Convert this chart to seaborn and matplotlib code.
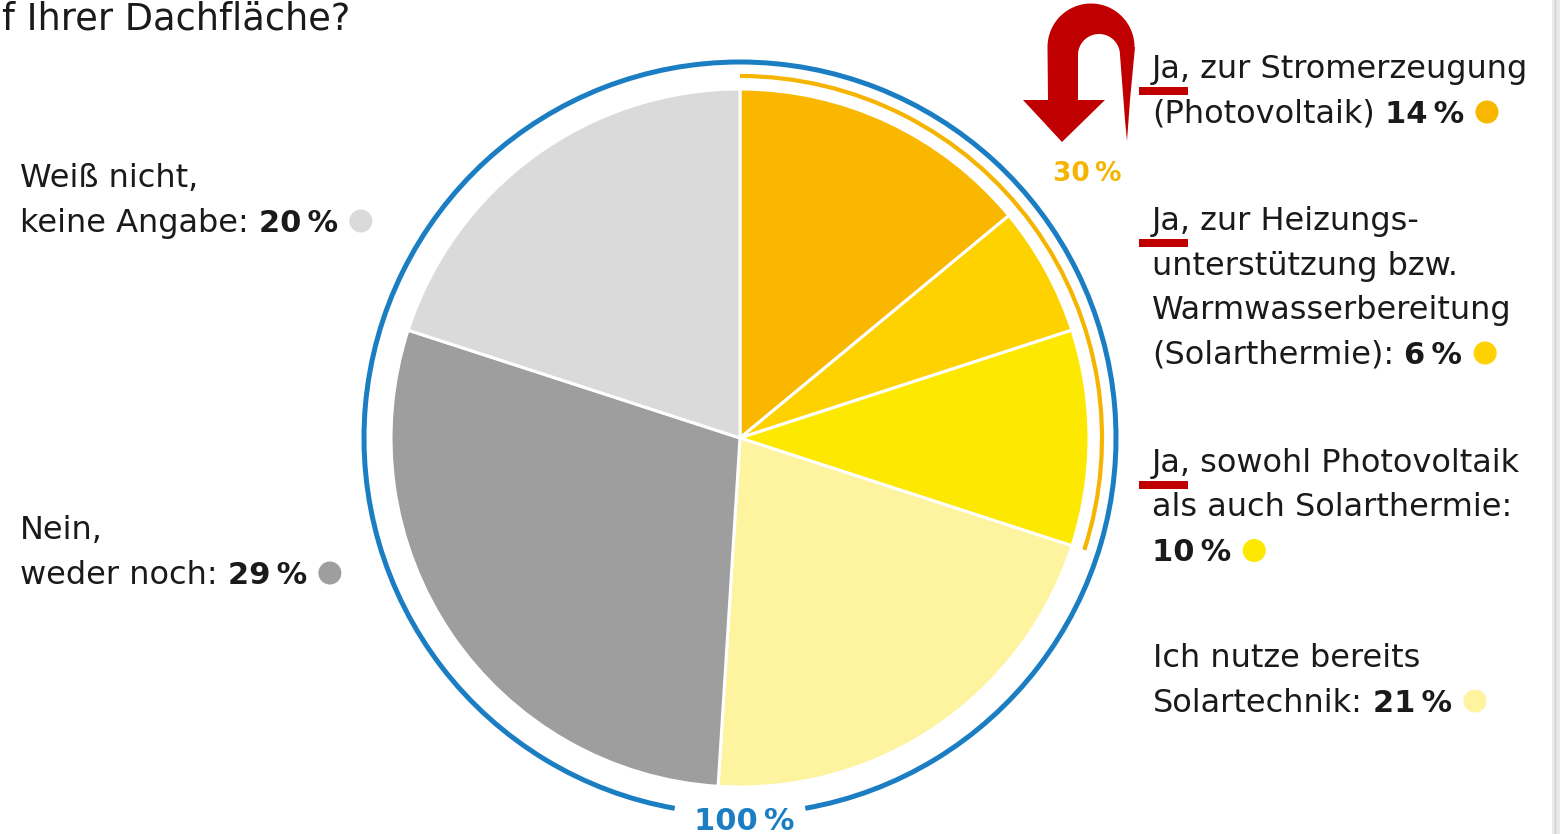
import numpy as np
import matplotlib
matplotlib.use("Agg")
import matplotlib.pyplot as plt
from matplotlib.patches import Arc, Circle, Polygon, Rectangle
import seaborn as sns

# --- data ---
shares = [14, 6, 10, 21, 29, 20]
slice_colors = ["#F9B700", "#FDD200", "#FCE800", "#FEF39E", "#9E9E9E", "#DADADA"]
label_lines = [
    ["Ja, zur Stromerzeugung", "(Photovoltaik)"],
    ["Ja, zur Heizungs-", "unterstützung bzw.", "Warmwasserbereitung", "(Solarthermie):"],
    ["Ja, sowohl Photovoltaik", "als auch Solarthermie:", ""],
    ["Ich nutze bereits", "Solartechnik:"],
    ["Nein,", "weder noch:"],
    ["Weiß nicht,", "keine Angabe:"],
]
ja_marked = [True, True, True, False, False, False]
n_yes = 3  # the three "Ja" answers form the 30 % group
title = "f Ihrer Dachfläche?"

# --- layout (pixels, measured from the top) ---
W, H = 1560, 834
cx, cy = 740, 438
r_pie, r_yes, r_all = 349, 362, 376
label_x = [1152, 1152, 1152, 1153, 20, 20]
first_base = [78, 230, 472, 667, 539, 187]
step = 44.5
blue = "#1B7EC2"
orange = "#F5B400"
red = "#C00000"
ink = "#1A1A1A"


def Y(y):
    return H - y


sns.set_theme(style="white")
plt.rcParams["font.family"] = ["DejaVu Sans"]

fig = plt.figure(figsize=(W / 100, H / 100), dpi=100)
ax = fig.add_axes([0, 0, 1, 1])

ax.pie(shares, colors=slice_colors, startangle=90, counterclock=False,
       center=(cx, Y(cy)), radius=r_pie,
       wedgeprops=dict(edgecolor="white", linewidth=2.2))
ax.set_xlim(0, W)
ax.set_ylim(0, H)
ax.set_aspect("equal")
ax.axis("off")

# outer ring (100 %) with a gap at the bottom for its label
ax.add_patch(Arc((cx, Y(cy)), 2 * r_all, 2 * r_all, theta1=-80, theta2=260,
                 color=blue, lw=3.6))
ax.text(744, Y(821), f"{sum(shares)}\u2009%", ha="center", va="center",
        fontsize=22, fontweight="bold", color=blue)

# orange arc around the "Ja" slices
yes_total = sum(shares[:n_yes])
arc_end = 90 - 360 * yes_total / sum(shares)
ax.add_patch(Arc((cx, Y(cy)), 2 * r_yes, 2 * r_yes, theta1=arc_end, theta2=90,
                 color=orange, lw=3))
ax.text(1087, Y(174), f"{yes_total}\u2009%", ha="center", va="center",
        fontsize=19, fontweight="bold", color=orange)

# red U-turn arrow
pts = [(1048, 100), (1023, 100), (1062, 142), (1105, 100), (1078, 100)]
t = np.linspace(np.pi, 0, 40)
pts += list(zip(1099 + 21 * np.cos(t), 55 - 21 * np.sin(t)))
pts += [(1125, 120), (1127, 141), (1130, 100), (1135, 47)]
t = np.linspace(0, np.pi, 50)
pts += list(zip(1091 + 43.5 * np.cos(t), 47 - 43.5 * np.sin(t)))
ax.add_patch(Polygon([(x, Y(y)) for x, y in pts], closed=True,
                     facecolor=red, edgecolor="none"))

ax.text(2, Y(29), title, ha="left", va="baseline", fontsize=26.5, color=ink)

renderer = fig.canvas.get_renderer()
for i, lines in enumerate(label_lines):
    x0 = label_x[i]
    for j, line in enumerate(lines):
        yb = first_base[i] + j * step
        end = x0
        if line:
            txt = ax.text(x0, Y(yb), line, ha="left", va="baseline",
                          fontsize=23, color=ink)
            end = txt.get_window_extent(renderer).x1 + 10
        if j == len(lines) - 1:
            pct = ax.text(end, Y(yb), f"{shares[i]}\u2009%", ha="left",
                          va="baseline", fontsize=22, fontweight="bold", color=ink)
            pend = pct.get_window_extent(renderer).x1
            ax.add_patch(Circle((pend + 23, Y(yb - 10.5)), 11.5,
                                facecolor=slice_colors[i], edgecolor="none"))
    if ja_marked[i]:
        yu = first_base[i] + 9
        ax.add_patch(Rectangle((1139, Y(yu + 8)), 49, 8,
                               facecolor=red, edgecolor="none"))

# thin grey edge on the right
ax.add_patch(Rectangle((1552, 0), 8, H, facecolor="#E9E9E9", edgecolor="none"))
ax.plot([1554.5, 1554.5], [0, H], color="#CFCFCF", lw=1)

fig.savefig("out.png", dpi=100)
